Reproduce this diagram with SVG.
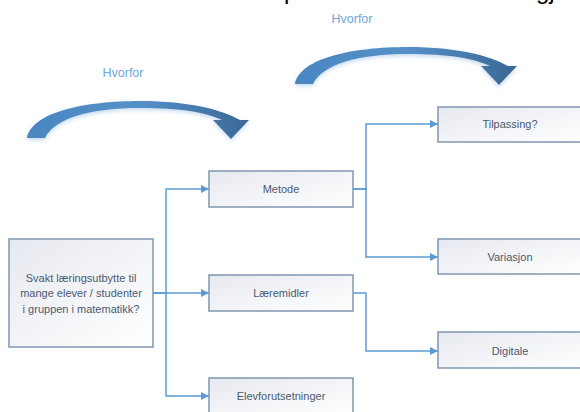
<svg xmlns="http://www.w3.org/2000/svg" width="580" height="412" viewBox="0 0 580 412">
<defs>
<style>
.box{fill:url(#boxg);stroke:#8096b0;stroke-width:1.5}
.lbl{font-family:"Liberation Sans",Arial,sans-serif;font-size:11px;fill:#4a5a70;text-anchor:middle;dominant-baseline:central}
.why{font-family:"Liberation Sans",Arial,sans-serif;font-size:12.5px;fill:#6fa8e0;text-anchor:middle}
.title{font-family:"Liberation Sans",Arial,sans-serif;font-size:24px;fill:#000}
.conn{fill:none;stroke:#5b9bd5;stroke-width:1.5}
.arc{fill:url(#arcg);filter:url(#glow)}
</style>
<linearGradient id="boxg" x1="0" y1="0" x2="1" y2="1">
<stop offset="0" stop-color="#e6e9f0"/>
<stop offset="1" stop-color="#ffffff"/>
</linearGradient>
<linearGradient id="arcg" x1="0" y1="0" x2="1" y2="0">
<stop offset="0" stop-color="#4a86c2"/>
<stop offset="0.5" stop-color="#5690c8"/>
<stop offset="1" stop-color="#3a6896"/>
</linearGradient>
<filter id="glow" x="-10%" y="-30%" width="120%" height="160%">
<feGaussianBlur in="SourceAlpha" stdDeviation="2"/>
<feOffset dy="2" result="b"/>
<feFlood flood-color="#9fc0e4" flood-opacity="0.6"/>
<feComposite in2="b" operator="in"/>
<feMerge><feMergeNode/><feMergeNode in="SourceGraphic"/></feMerge>
</filter>
<marker id="ah" markerWidth="9" markerHeight="9" refX="8" refY="4" orient="auto" markerUnits="userSpaceOnUse">
<path d="M0,0 L8,4 L0,8 Z" fill="#5b9bd5"/>
</marker>
</defs>
<rect width="580" height="412" fill="#ffffff"/>
<text class="title" x="284" y="-1">p</text>
<text class="title" x="536" y="-1">gj</text>

<g id="why-left">
<path class="arc" d="M27,138 C32,112 85,101 140,101 C190,101 222,110 240,120 L249,120 L231,139 L213,120 L222,120 C205,112 180,108 140,108 C90,108 55,118 45,138 Z"/>
<text class="why" x="123" y="77">Hvorfor</text>
</g>
<g id="why-right">
<path class="arc" transform="translate(268,-54)" d="M27,138 C32,112 85,101 140,101 C190,101 222,110 240,120 L249,120 L231,139 L213,120 L222,120 C205,112 180,108 140,108 C90,108 55,118 45,138 Z"/>
<text class="why" x="352" y="23">Hvorfor</text>
</g>

<g id="connectors">
<path class="conn" marker-end="url(#ah)" d="M153,293 H166 V189 H209"/>
<path class="conn" marker-end="url(#ah)" d="M153,293 H209"/>
<path class="conn" marker-end="url(#ah)" d="M153,293 H166 V396 H209"/>
<path class="conn" marker-end="url(#ah)" d="M353,189 H366 V124 H438"/>
<path class="conn" marker-end="url(#ah)" d="M353,189 H366 V257 H438"/>
<path class="conn" marker-end="url(#ah)" d="M353,293 H366 V351 H438"/>
</g>

<g id="problem">
<rect class="box" x="9" y="239" width="144" height="108"/>
<text class="lbl" x="81" y="278">Svakt læringsutbytte til</text>
<text class="lbl" x="81" y="293">mange elever / studenter</text>
<text class="lbl" x="81" y="309">i gruppen i matematikk?</text>
</g>
<g id="metode">
<rect class="box" x="209" y="171" width="144" height="36"/>
<text class="lbl" x="281" y="189">Metode</text>
</g>
<g id="laeremidler">
<rect class="box" x="209" y="275" width="144" height="36"/>
<text class="lbl" x="281" y="293">Læremidler</text>
</g>
<g id="elevforutsetninger">
<rect class="box" x="209" y="378" width="144" height="36"/>
<text class="lbl" x="281" y="396">Elevforutsetninger</text>
</g>
<g id="tilpassing">
<rect class="box" x="438" y="107" width="144" height="35"/>
<text class="lbl" x="510" y="124">Tilpassing?</text>
</g>
<g id="variasjon">
<rect class="box" x="438" y="239" width="144" height="35"/>
<text class="lbl" x="510" y="257">Variasjon</text>
</g>
<g id="digitale">
<rect class="box" x="438" y="332" width="144" height="36"/>
<text class="lbl" x="510" y="351">Digitale</text>
</g>
</svg>
